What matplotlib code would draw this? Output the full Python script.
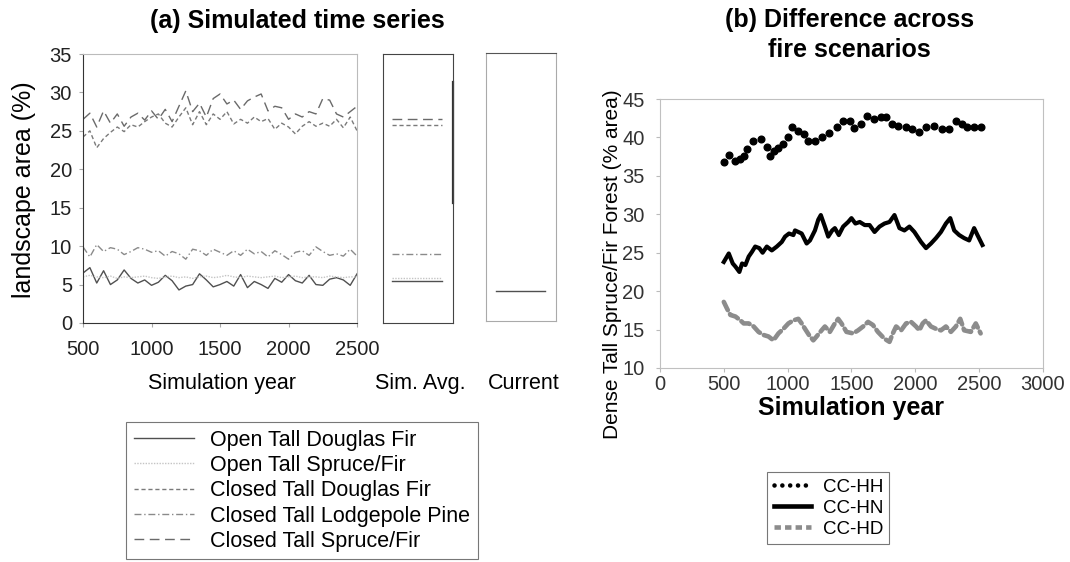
import numpy as np
import matplotlib
matplotlib.use("Agg")
import matplotlib.pyplot as plt
from matplotlib.lines import Line2D

plt.rcParams['font.family'] = ['Liberation Sans', 'DejaVu Sans']

# ---- panel (a): simulated time series, % landscape area ----
years_a = list(range(500, 2501, 50))
open_douglas = [6.5, 7.2, 5.2, 6.8, 5.0, 5.6, 6.9, 5.8, 5.2, 5.6, 4.9, 5.3, 6.2, 5.5, 4.3,
                4.8, 5.0, 6.4, 5.6, 4.7, 5.0, 5.4, 4.8, 6.3, 4.6, 5.4, 5.0, 4.5, 5.8, 5.3,
                6.3, 5.5, 5.2, 6.2, 5.0, 4.9, 5.7, 5.9, 5.6, 4.9, 6.4]
open_spruce = [6.0, 6.2, 6.0, 5.9, 6.1, 5.8, 6.0, 5.9, 6.0, 6.1, 5.9, 5.8, 6.0, 6.1, 5.9,
               6.0, 5.8, 6.0, 6.1, 5.9, 6.0, 6.2, 6.0, 5.9, 6.1, 6.0, 5.9, 6.0, 6.1, 5.9,
               6.0, 6.1, 5.9, 6.0, 6.0, 5.9, 6.1, 6.0, 5.9, 6.0, 6.0]
closed_douglas = [24.2, 25.0, 22.8, 24.0, 24.8, 25.5, 24.9, 25.8, 25.5, 26.2, 26.8, 27.2, 26.0,
                  25.5, 26.8, 28.0, 25.8, 27.5, 25.8, 27.2, 26.5, 27.5, 25.9, 26.5, 26.0, 26.8,
                  26.2, 26.6, 25.2, 26.0, 25.5, 24.6, 25.6, 26.2, 25.6, 26.0, 25.6, 26.5, 25.4,
                  26.8, 25.0]
closed_lodgepole = [9.9, 8.6, 10.2, 9.3, 9.8, 9.6, 8.9, 9.3, 9.8, 9.6, 9.2, 9.4, 8.7, 9.3, 9.0,
                    8.3, 9.6, 9.4, 8.8, 9.6, 9.2, 8.8, 9.4, 8.8, 9.6, 9.0, 9.3, 8.6, 9.4, 8.9,
                    8.3, 9.2, 9.4, 8.8, 9.9, 9.3, 8.8, 9.0, 8.7, 9.6, 8.7]
closed_spruce = [26.5, 27.3, 25.5, 27.6, 26.0, 27.2, 25.6, 26.8, 27.3, 26.4, 27.6, 26.5, 27.8,
                 26.2, 28.2, 30.2, 27.5, 28.6, 26.8, 29.2, 29.8, 28.5, 29.0, 27.8, 28.9, 29.4,
                 29.8, 27.6, 28.2, 28.0, 26.5, 27.2, 26.8, 27.5, 27.2, 29.2, 29.0, 27.2, 26.8,
                 27.5, 28.2]
series_names = ['Open Tall Douglas Fir', 'Open Tall Spruce/Fir', 'Closed Tall Douglas Fir',
                'Closed Tall Lodgepole Pine', 'Closed Tall Spruce/Fir']
sim_avg = [5.4, 5.9, 25.7, 9.0, 26.5]
current_val = 3.9

# ---- panel (b): difference across fire scenarios ----
years_hh = [500, 544, 591, 630, 656, 681, 726, 791, 837, 863, 897, 928, 962, 1006, 1032,
            1084, 1128, 1162, 1214, 1271, 1323, 1383, 1435, 1492, 1520, 1572, 1624, 1676,
            1728, 1767, 1819, 1868, 1928, 1972, 2032, 2084, 2149, 2206, 2265, 2317, 2369,
            2408, 2460, 2512]
cc_hh = [36.8, 37.7, 36.9, 37.2, 37.6, 38.5, 39.5, 39.8, 38.7, 37.6, 38.3, 38.6, 39.2, 40.1,
         41.3, 40.8, 40.4, 39.5, 39.5, 40.0, 40.6, 41.3, 42.1, 42.1, 41.2, 41.8, 42.8, 42.4,
         42.6, 42.6, 41.8, 41.5, 41.4, 41.1, 40.7, 41.3, 41.5, 41.1, 41.1, 42.2, 41.8, 41.4,
         41.4, 41.4]
years_hn = [500, 539, 570, 591, 622, 643, 669, 695, 720, 746, 778, 804, 837, 876, 915, 954,
            980, 1011, 1045, 1058, 1084, 1110, 1149, 1175, 1214, 1240, 1260, 1292, 1318, 1349,
            1370, 1401, 1435, 1474, 1500, 1531, 1565, 1604, 1642, 1681, 1720, 1759, 1798,
            1837, 1876, 1915, 1954, 1993, 2045, 2084, 2123, 2162, 2201, 2240, 2274, 2305,
            2344, 2383, 2422, 2461, 2487, 2526]
cc_hn = [23.8, 24.9, 23.6, 23.2, 22.5, 23.6, 23.4, 24.5, 25.1, 25.8, 25.6, 25.0, 25.8, 25.3,
         25.8, 26.4, 27.1, 27.5, 27.3, 27.9, 27.7, 27.5, 26.2, 26.6, 27.9, 29.3, 29.9, 28.4,
         27.1, 27.9, 28.2, 27.3, 28.4, 29.0, 29.5, 28.8, 29.0, 28.6, 28.6, 27.7, 28.4, 28.8,
         29.0, 29.9, 28.2, 27.9, 28.4, 27.7, 26.4, 25.6, 26.2, 26.9, 27.7, 28.8, 29.5, 27.9,
         27.3, 26.9, 26.6, 28.2, 27.3, 26.0]
years_hd = [500, 526, 552, 591, 630, 656, 695, 734, 772, 811, 850, 889, 928, 967, 1006, 1045,
            1084, 1110, 1136, 1167, 1201, 1227, 1266, 1292, 1331, 1370, 1396, 1422, 1461,
            1513, 1552, 1591, 1630, 1668, 1707, 1759, 1798, 1824, 1850, 1889, 1928, 1967,
            2006, 2032, 2058, 2084, 2123, 2162, 2201, 2240, 2279, 2318, 2352, 2383, 2435,
            2474, 2512]
cc_hd = [18.6, 17.7, 16.9, 16.7, 16.2, 15.8, 15.8, 15.4, 14.7, 14.3, 14.1, 13.6, 14.5, 15.1,
         15.8, 16.2, 16.4, 15.8, 15.1, 14.3, 13.6, 14.1, 14.9, 15.4, 14.7, 15.8, 16.4, 15.8,
         14.7, 14.5, 14.9, 15.4, 16.0, 15.6, 14.7, 13.8, 13.4, 14.5, 15.4, 14.9, 15.8, 16.0,
         15.4, 14.9, 15.8, 16.2, 15.4, 15.1, 14.9, 15.4, 14.7, 15.4, 16.4, 14.9, 14.7, 15.8,
         14.5]

styles = [dict(color='#505050', ls='-', lw=1.0),
          dict(color='#c4c4c4', ls=(0, (1, 1)), lw=1.0),
          dict(color='#7a7a7a', ls=(0, (3, 2)), lw=1.0),
          dict(color='#8a8a8a', ls=(0, (5, 2, 1, 2)), lw=1.0),
          dict(color='#6a6a6a', ls=(0, (7, 4)), lw=1.0)]
all_series = [open_douglas, open_spruce, closed_douglas, closed_lodgepole, closed_spruce]

fig = plt.figure(figsize=(10.70, 5.62), dpi=100)

# main time-series axes
ax = fig.add_axes([0.0776, 0.4253, 0.2561, 0.4786])
for vals, st, name in zip(all_series, styles, series_names):
    ax.plot(years_a, vals, label=name, **st)
ax.set_xlim(500, 2500)
ax.set_ylim(0, 35)
ax.set_xticks(range(500, 2501, 500))
ax.set_yticks(range(0, 36, 5))
ax.tick_params(labelsize=14.5, length=3, color='#aaaaaa', labelcolor='#222222')
ax.tick_params(axis='x', pad=9)
ax.tick_params(axis='y', pad=5)
for s in ['top', 'right']:
    ax.spines[s].set_color('#bbbbbb')
for s in ['left', 'bottom']:
    ax.spines[s].set_color('#333333')

# simulation averages
ax2 = fig.add_axes([0.3579, 0.4253, 0.0654, 0.4786])
for v, st in zip(sim_avg, styles):
    ax2.plot([0.13, 0.84], [v, v], **st)
ax2.plot([1, 1], [15.6, 31.4], color='#333333', lw=1.6, clip_on=False)
ax2.set_xlim(0, 1)
ax2.set_ylim(0, 35)
ax2.set_xticks([])
ax2.set_yticks([])
for s in ax2.spines.values():
    s.set_color('#444444')

# current landscape
ax3 = fig.add_axes([0.4542, 0.4288, 0.0654, 0.4769])
ax3.plot([0.14, 0.85], [current_val, current_val], **styles[0])
ax3.set_xlim(0, 1)
ax3.set_ylim(0, 35)
ax3.set_xticks([])
ax3.set_yticks([])
for s in ax3.spines.values():
    s.set_color('#aaaaaa')
ax3.spines['top'].set_color('#555555')

fig.text(0.2776, 0.962, '(a) Simulated time series', ha='center', va='center',
         fontsize=18, fontweight='bold')
fig.text(0.022, 0.663, 'landscape area (%)', rotation=90, ha='center', va='center', fontsize=18)
fig.text(0.2075, 0.318, 'Simulation year', ha='center', va='center', fontsize=15.5)
fig.text(0.3925, 0.318, 'Sim. Avg.', ha='center', va='center', fontsize=15.5)
fig.text(0.4897, 0.318, 'Current', ha='center', va='center', fontsize=15.5)

handles_a = [Line2D([], [], **st) for st in styles]
leg = fig.legend(handles_a, series_names, loc='upper left', bbox_to_anchor=(0.118, 0.249),
                 borderaxespad=0, fontsize=15.5, frameon=True, fancybox=False,
                 edgecolor='#555555', handlelength=2.8, labelspacing=0.2, borderpad=0.35,
                 handletextpad=0.75)
leg.get_frame().set_linewidth(0.8)

# ---- panel (b) ----
bx = fig.add_axes([0.6168, 0.3452, 0.3579, 0.4786])
bx.plot(years_hh, cc_hh, ls='none', marker='o', ms=4.8, color='black')
bx.plot(years_hn, cc_hn, color='black', lw=3.0, solid_joinstyle='round')
bx.plot(years_hd, cc_hd, color='#8c8c8c', lw=3.3, ls=(0, (2.0, 1.0)), dash_capstyle='round')
bx.set_xlim(0, 3000)
bx.set_ylim(10, 45)
bx.set_xticks(range(0, 3001, 500))
bx.set_yticks(range(10, 46, 5))
bx.tick_params(labelsize=14.5, length=3, color='#bbbbbb', labelcolor='#333333')
bx.tick_params(axis='x', pad=2)
bx.tick_params(axis='y', pad=8)
for s in bx.spines.values():
    s.set_color('#c0c0c0')

fig.text(0.794, 0.964, '(b) Difference across', ha='center', va='center',
         fontsize=18, fontweight='bold')
fig.text(0.794, 0.911, 'fire scenarios', ha='center', va='center',
         fontsize=18, fontweight='bold')
fig.text(0.572, 0.53, 'Dense Tall Spruce/Fir Forest (% area)', rotation=90,
         ha='center', va='center', fontsize=15)
fig.text(0.795, 0.274, 'Simulation year', ha='center', va='center',
         fontsize=18, fontweight='bold')

handles_b = [Line2D([], [], color='black', ls=(0, (0.01, 1.7)), lw=3.3, dash_capstyle='round'),
             Line2D([], [], color='black', lw=3.3),
             Line2D([], [], color='#8c8c8c', lw=3.3, ls=(0, (1.4, 0.9)))]
legb = fig.legend(handles_b, ['CC-HH', 'CC-HN', 'CC-HD'], loc='upper left',
                  bbox_to_anchor=(0.717, 0.16), borderaxespad=0, fontsize=13.5, frameon=True,
                  fancybox=False, edgecolor='#555555', handlelength=2.0, labelspacing=0.2,
                  borderpad=0.35, handletextpad=0.6)
legb.get_frame().set_linewidth(0.8)

fig.savefig('out.png', dpi=100)
